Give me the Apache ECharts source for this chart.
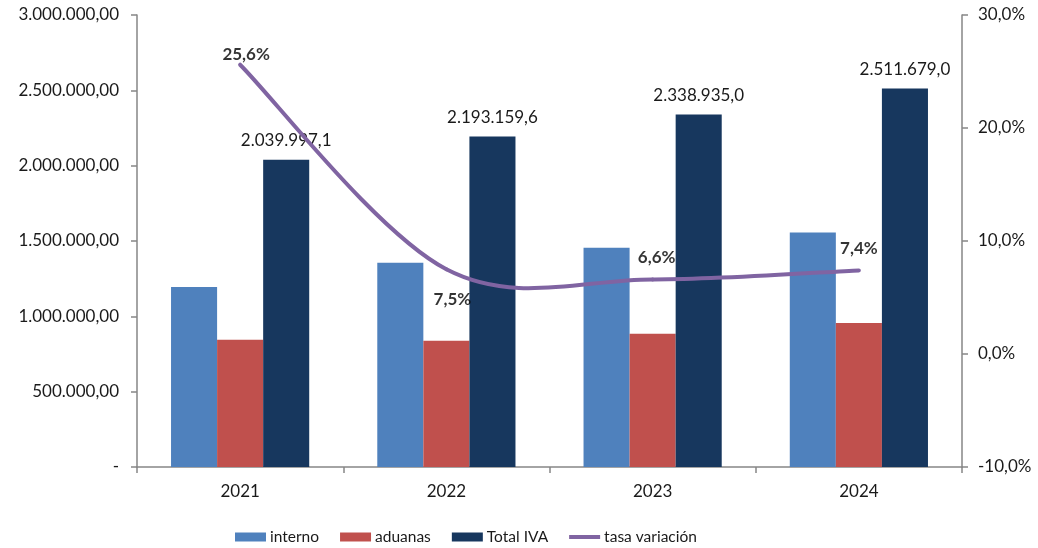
<!DOCTYPE html>
<html>
<head>
<meta charset="utf-8">
<script src="https://cdn.jsdelivr.net/npm/echarts@6/dist/echarts.min.js"></script>
<style>
  html, body { margin: 0; padding: 0; background: #fff; }
  #chart { width: 1038px; height: 548px; }
</style>
</head>
<body>
<div id="chart"></div>
<script>
var years = ['2021', '2022', '2023', '2024']
var interno = [1195000, 1355000, 1455000, 1556000]
var aduanas = [845000, 838160, 883935, 955679]
var totalIva = [2039997.1, 2193159.6, 2338935.0, 2511679.0]
var tasaVariacion = [25.6, 7.5, 6.6, 7.4]

// where each tasa label sits relative to its point
var tasaLabelPos = [[6, -10], [6, 30], [4, -22], [0, -22]]

var FONT = 'Lato'
var FS = 17
var PURPLE = '#8064A2'

function fmtMiles(v, dec) {
  var parts = v.toFixed(dec).split('.')
  var ent = parts[0].replace(/\B(?=(\d{3})+(?!\d))/g, '.')
  return dec > 0 ? ent + ',' + parts[1] : ent
}
function fmtPct(v) { return v.toFixed(1).replace('.', ',') + '%' }

// excel style smoothed line: cubic segments with catmull-rom tangents (1/6)
function renderTasa(params, api) {
  if (params.dataIndex !== 0) return null
  var pts = tasaVariacion.map(function (v, i) { return api.coord([i, v]) })
  var n = pts.length
  var children = []
  for (var i = 0; i < n - 1; i++) {
    var p0 = pts[Math.max(i - 1, 0)]
    var p1 = pts[i]
    var p2 = pts[i + 1]
    var p3 = pts[Math.min(i + 2, n - 1)]
    children.push({
      type: 'bezierCurve',
      shape: {
        x1: p1[0], y1: p1[1],
        cpx1: p1[0] + (p2[0] - p0[0]) / 6, cpy1: p1[1] + (p2[1] - p0[1]) / 6,
        cpx2: p2[0] - (p3[0] - p1[0]) / 6, cpy2: p2[1] - (p3[1] - p1[1]) / 6,
        x2: p2[0], y2: p2[1]
      },
      style: { stroke: PURPLE, lineWidth: 4, fill: null, lineCap: 'round' }
    })
  }
  return { type: 'group', children: children }
}

var chart = echarts.init(document.getElementById('chart'))

var axisGray = '#868686'
var txt = '#1a1a1a'

var option = {
  animation: false,
  textStyle: { fontFamily: FONT },
  grid: { left: 137, right: 76, top: 15, bottom: 81 },
  legend: {
    top: 524,
    left: 230,
    itemWidth: 31,
    itemHeight: 9,
    itemGap: 21,
    textStyle: { fontFamily: FONT, fontSize: 15.5, color: txt, padding: [0, 0, 0, -1] },
    data: [
      { name: 'interno', icon: 'rect' },
      { name: 'aduanas', icon: 'rect' },
      { name: 'Total IVA', icon: 'rect' },
      { name: 'tasa variación', icon: 'path://M0,0 L31,0 L31,4 L0,4 Z' }
    ]
  },
  xAxis: {
    type: 'category',
    data: years,
    axisLine: { lineStyle: { color: axisGray, width: 1.5 } },
    axisTick: { show: true, length: 6, lineStyle: { color: axisGray, width: 1.5 } },
    axisLabel: { color: txt, fontSize: FS, margin: 16, fontFamily: FONT },
    splitLine: { show: false }
  },
  yAxis: [
    {
      type: 'value',
      min: 0,
      max: 3000000,
      interval: 500000,
      axisLine: { show: true, lineStyle: { color: axisGray, width: 1.5 } },
      axisTick: { show: true, length: 6, lineStyle: { color: axisGray, width: 1.5 } },
      splitLine: { show: false },
      axisLabel: {
        color: txt,
        fontSize: FS,
        margin: 18,
        fontFamily: FONT,
        formatter: function (v) { return v === 0 ? '-' : fmtMiles(v, 2) }
      }
    },
    {
      type: 'value',
      min: -10,
      max: 30,
      interval: 10,
      position: 'right',
      axisLine: { show: true, lineStyle: { color: axisGray, width: 1.5 } },
      axisTick: { show: true, length: 6, lineStyle: { color: axisGray, width: 1.5 } },
      splitLine: { show: false },
      axisLabel: {
        color: txt,
        fontSize: FS,
        margin: 16,
        fontFamily: FONT,
        formatter: fmtPct
      }
    }
  ],
  series: [
    {
      name: 'interno',
      type: 'bar',
      data: interno,
      barGap: '0%',
      barCategoryGap: '33%',
      itemStyle: { color: '#4F81BD' }
    },
    {
      name: 'aduanas',
      type: 'bar',
      data: aduanas,
      itemStyle: { color: '#C0504D' }
    },
    {
      name: 'Total IVA',
      type: 'bar',
      data: totalIva,
      itemStyle: { color: '#17375E' },
      label: {
        show: true,
        position: 'top',
        distance: 11,
        color: txt,
        fontSize: FS,
        fontFamily: FONT,
        formatter: function (p) { return fmtMiles(p.value, 1) }
      }
    },
    {
      name: 'tasa variación',
      type: 'custom',
      yAxisIndex: 1,
      z: 5,
      itemStyle: { color: PURPLE },
      renderItem: renderTasa,
      encode: { x: 0, y: 1 },
      data: tasaVariacion.map(function (v, i) { return [i, v] })
    },
    {
      // labels for the tasa line, kept out of the legend
      name: 'tasa labels',
      type: 'scatter',
      yAxisIndex: 1,
      symbolSize: 0,
      z: 6,
      silent: true,
      data: tasaVariacion.map(function (v, i) {
        return {
          value: v,
          label: {
            show: true,
            position: 'inside',
            offset: tasaLabelPos[i],
            fontWeight: 'bold',
            fontSize: FS,
            color: '#000',
            fontFamily: FONT,
            formatter: function (p) { return fmtPct(p.value) }
          }
        }
      })
    }
  ]
}

chart.setOption(option)
</script>
</body>
</html>
